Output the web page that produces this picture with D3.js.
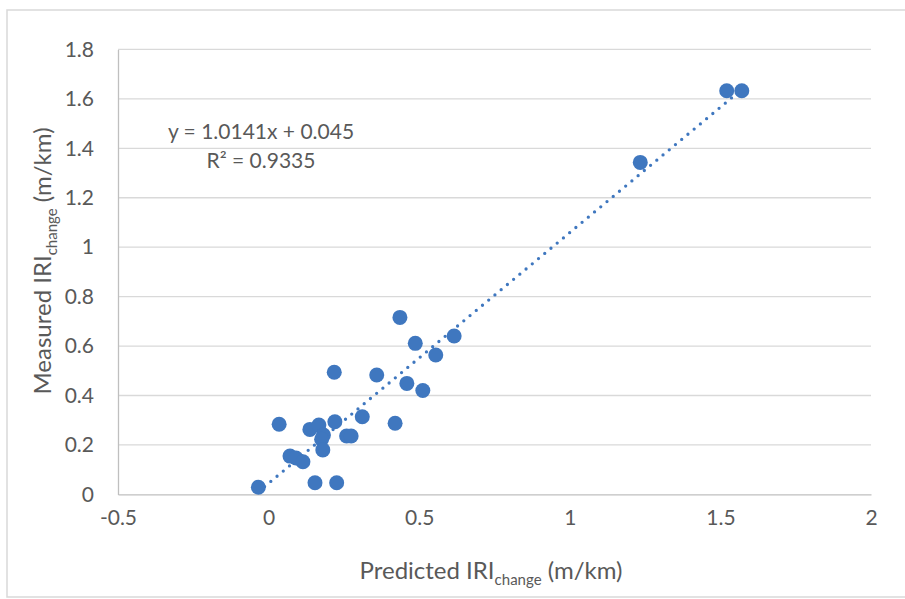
<!DOCTYPE html>
<html>
<head>
<meta charset="utf-8">
<script src="https://cdn.jsdelivr.net/npm/d3@7"></script>
<style>
  html, body { margin: 0; padding: 0; background: #fff; }
  svg { display: block; font-family: Lato, "Open Sans", sans-serif; }
</style>
</head>
<body>
<svg id="chart" width="905" height="599"></svg>
<script>
// Predicted vs. measured IRI change (m/km)
const predicted = [
  -0.034, 0.035, 0.071, 0.091, 0.114, 0.154, 0.226, 0.137, 0.167, 0.182,
  0.176, 0.180, 0.220, 0.259, 0.274, 0.311, 0.420, 0.436, 0.487, 0.616,
  0.555, 0.218, 0.359, 0.459, 0.512, 1.234, 1.521, 1.571
];
const measured = [
  0.029, 0.284, 0.155, 0.147, 0.132, 0.047, 0.047, 0.263, 0.281, 0.240,
  0.223, 0.180, 0.294, 0.236, 0.236, 0.314, 0.288, 0.716, 0.611, 0.641,
  0.564, 0.494, 0.483, 0.449, 0.420, 1.343, 1.633, 1.633
];
const xTicks = [-0.5, 0, 0.5, 1, 1.5, 2];
const yTicks = [0, 0.2, 0.4, 0.6, 0.8, 1, 1.2, 1.4, 1.6, 1.8];
const slope = 1.0141;
const intercept = 0.045;
const rSquared = "0.9335";

const points = predicted.map((p, i) => ({ x: p, y: measured[i] }));

const svg = d3.select("#chart");
const x = d3.scaleLinear().domain([-0.5, 2]).range([118, 871]);
const y = d3.scaleLinear().domain([0, 1.8]).range([494.4, 49.4]);

const textColor = "#595959";
const markColor = "#3F77BF";
const fmt = d => String(d);

// chart area border
svg.append("rect")
  .attr("x", 7).attr("y", 10).attr("width", 910).attr("height", 587)
  .attr("fill", "none").attr("stroke", "#D9D9D9").attr("stroke-width", 1.5);

// horizontal gridlines
svg.append("g")
  .selectAll("line")
  .data(yTicks.filter(d => d > 0))
  .join("line")
  .attr("x1", x(-0.5)).attr("x2", x(2))
  .attr("y1", d => y(d)).attr("y2", d => y(d))
  .attr("stroke", "#D9D9D9").attr("stroke-width", 1.3);

// x axis along y = 0
const xAxis = d3.axisBottom(x).tickValues(xTicks).tickSize(0).tickPadding(16)
  .tickFormat(fmt);
const gx = svg.append("g").attr("transform", `translate(0,${y(0)})`).call(xAxis);
gx.select(".domain").attr("stroke", "#BFBFBF").attr("stroke-width", 1.3);
gx.selectAll("text").attr("fill", textColor).style("font-size", "21px")
  .style("font-family", "Lato, sans-serif");

// y axis at x = -0.5
const yAxis = d3.axisLeft(y).tickValues(yTicks).tickSize(0).tickPadding(24)
  .tickFormat(fmt);
const gy = svg.append("g").attr("transform", `translate(${x(-0.5)},0)`).call(yAxis);
gy.select(".domain").attr("stroke", "#BFBFBF").attr("stroke-width", 1.3);
gy.selectAll("text").attr("fill", textColor).style("font-size", "21px")
  .style("font-family", "Lato, sans-serif");

// linear trendline, dotted, over the data range
const [xmin, xmax] = d3.extent(predicted);
svg.append("line")
  .attr("x1", x(xmin)).attr("y1", y(slope * xmin + intercept))
  .attr("x2", x(xmax)).attr("y2", y(slope * xmax + intercept))
  .attr("stroke", markColor).attr("stroke-width", 3.3)
  .attr("stroke-linecap", "round").attr("stroke-dasharray", "0 8.1");

// data markers
svg.append("g")
  .selectAll("circle")
  .data(points)
  .join("circle")
  .attr("cx", d => x(d.x)).attr("cy", d => y(d.y))
  .attr("r", 7.5)
  .attr("fill", markColor);

// trendline equation
const eq = svg.append("g").attr("fill", textColor).style("font-size", "21px")
  .attr("text-anchor", "middle");
eq.append("text").attr("x", 261).attr("y", 139)
  .text(`y = ${slope}x + ${intercept}`);
eq.append("text").attr("x", 261).attr("y", 168)
  .text(`R² = ${rSquared}`);

// axis titles with subscript
function title(sel) {
  sel.append("tspan").text(sel.datum()[0]);
  sel.append("tspan").attr("dy", 6).style("font-size", "15px").text("change");
  sel.append("tspan").attr("dy", -6).text(" (m/km)");
}
svg.append("text").datum(["Predicted IRI"])
  .attr("x", 491).attr("y", 579)
  .attr("text-anchor", "middle").attr("fill", textColor).style("font-size", "24px")
  .call(title);
svg.append("text").datum(["Measured IRI"])
  .attr("transform", "translate(51,261) rotate(-90)")
  .attr("text-anchor", "middle").attr("fill", textColor).style("font-size", "24px")
  .call(title);
</script>
</body>
</html>
